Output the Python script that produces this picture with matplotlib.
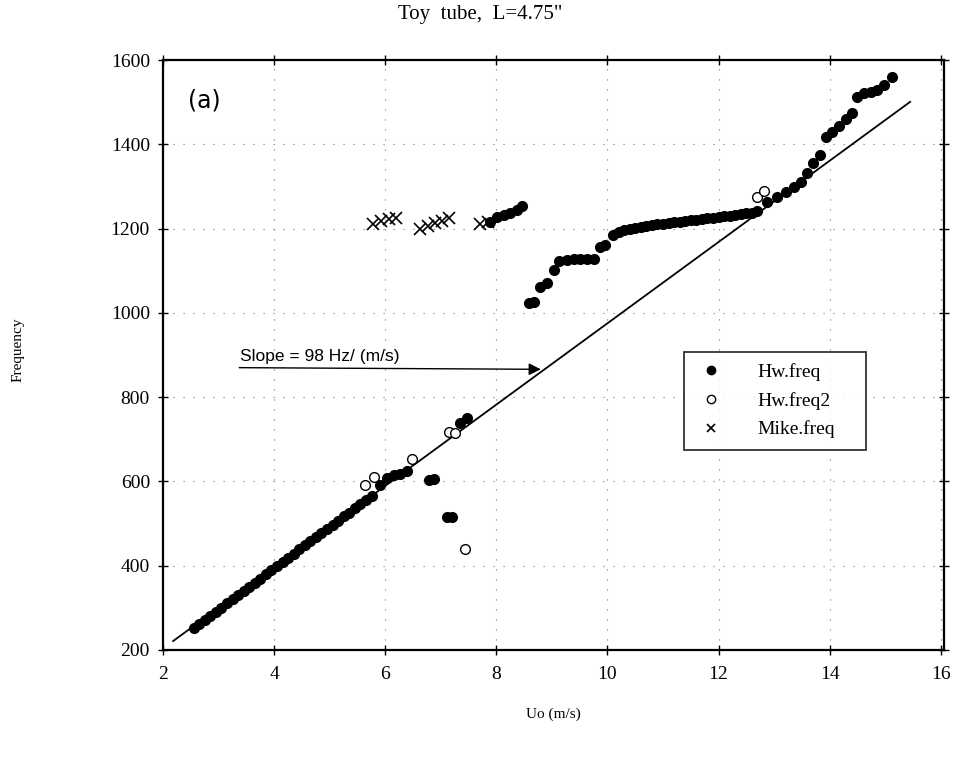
import matplotlib
matplotlib.use("Agg")
import matplotlib.pyplot as plt

# ---------------- data ----------------
hw_x = [2.55, 2.65, 2.75, 2.85, 2.95, 3.05, 3.15, 3.25, 3.35, 3.45, 3.55, 3.65,
        3.75, 3.85, 3.95, 4.05, 4.15, 4.25, 4.35, 4.45, 4.55, 4.65, 4.75, 4.85,
        4.95, 5.05, 5.15, 5.25, 5.35, 5.45, 5.55, 5.65, 5.76,
        5.91, 6.03, 6.15, 6.27, 6.39,
        6.78, 6.87, 7.11, 7.20, 7.35, 7.47,
        7.89, 8.01, 8.13, 8.25, 8.37, 8.46,
        8.58, 8.67, 8.79, 8.91, 9.03, 9.12, 9.27, 9.39, 9.51, 9.63, 9.75,
        9.87, 9.96,
        10.1, 10.2, 10.3, 10.4, 10.5, 10.6, 10.7, 10.8, 10.9, 11.0, 11.1, 11.2,
        11.3, 11.4, 11.5, 11.6, 11.7, 11.8, 11.9, 12.0, 12.1, 12.2, 12.3, 12.4,
        12.5, 12.6, 12.7,
        12.88, 13.06, 13.21, 13.36, 13.48, 13.60, 13.70, 13.82,
        13.93, 14.05, 14.17, 14.29, 14.41,
        14.50, 14.62, 14.74, 14.86, 14.98, 15.13]
hw_y = [251, 262, 272, 281, 291, 300, 311, 320, 330, 340, 350, 359,
        369, 380, 389, 399, 409, 418, 428, 439, 448, 458, 468, 477,
        487, 497, 507, 517, 526, 536, 546, 556, 566,
        592, 607, 615, 618, 625,
        603, 606, 516, 515, 738, 750,
        1216, 1228, 1232, 1236, 1244, 1254,
        1023, 1027, 1062, 1072, 1102, 1122, 1125, 1128, 1129, 1129, 1127,
        1157, 1161,
        1185, 1191, 1196, 1199, 1202, 1204, 1206, 1208, 1210, 1212, 1213, 1215,
        1216, 1218, 1220, 1221, 1223, 1225, 1226, 1228, 1229, 1231, 1232, 1234,
        1236, 1238, 1241,
        1264, 1276, 1288, 1299, 1311, 1332, 1355, 1375,
        1418, 1430, 1443, 1461, 1475,
        1513, 1521, 1525, 1530, 1541, 1559]

hw2_x = [5.64, 5.79, 6.48, 7.14, 7.26, 7.44, 12.70, 12.82]
hw2_y = [592, 611, 652, 718, 714, 439, 1276, 1290]

mike_x = [5.78, 5.92, 6.06, 6.20, 6.63, 6.76, 6.89, 7.02, 7.14, 7.71, 7.84]
mike_y = [1210, 1218, 1222, 1226, 1200, 1207, 1213, 1219, 1226, 1210, 1216]

fit_x = [2.18, 15.45]
fit_y = [221, 1501]

slope_label = "Slope = 98 Hz/ (m/s)"
arrow_from = (3.32, 870)
arrow_to = (8.85, 866)

x_ticks = [2, 4, 6, 8, 10, 12, 14, 16]
y_ticks = [200, 400, 600, 800, 1000, 1200, 1400, 1600]

# ---------------- figure ----------------
serif = ["Liberation Serif", "DejaVu Serif"]
fig = plt.figure(figsize=(9.54, 7.61), dpi=100)
ax = fig.add_axes([0.171, 0.146, 0.818, 0.775])

ax.plot(fit_x, fit_y, color="black", lw=1.3, zorder=2)
ax.plot(hw_x, hw_y, linestyle="none", marker="o", ms=7, color="black",
        label="Hw.freq", zorder=3)
ax.plot(hw2_x, hw2_y, linestyle="none", marker="o", ms=7, mfc="white",
        mec="black", mew=1.0, label="Hw.freq2", zorder=3)
ax.plot(mike_x, mike_y, linestyle="none", marker="x", ms=8, color="black",
        mew=1.2, label="Mike.freq", zorder=3)

ax.annotate("", xy=arrow_to, xytext=arrow_from,
            arrowprops=dict(arrowstyle="-|>", color="black", lw=1.0,
                            mutation_scale=18))
ax.text(arrow_from[0] + 0.07, 878, slope_label, fontsize=12.5,
        family=["Liberation Sans", "DejaVu Sans"], ha="left", va="bottom")
ax.text(2.45, 1505, "(a)", fontsize=17, family=["DejaVu Sans"], ha="left",
        va="center")

ax.set_xlim(2, 16.05)
ax.set_ylim(200, 1600)
ax.set_xticks(x_ticks)
ax.set_yticks(y_ticks)
ax.set_xticklabels([str(t) for t in x_ticks], family=serif, fontsize=14)
ax.set_yticklabels([str(t) for t in y_ticks], family=serif, fontsize=14)
ax.tick_params(direction="inout", length=7, width=1, top=True, right=True,
               pad=6)
ax.tick_params(axis="x", pad=8)
ax.grid(True, color="0.45", linestyle=(0, (1, 8)), lw=0.8)
for s in ax.spines.values():
    s.set_linewidth(1.6)

fig.text(480 / 954, 1 - 15 / 761, 'Toy  tube,  L=4.75"', family=serif,
         fontsize=15, ha="center", va="center")
ax.set_xlabel("Uo (m/s)", family=serif, fontsize=11, labelpad=18)
fig.text(18 / 954, 1 - 350 / 761, "Frequency", family=serif, fontsize=11,
         rotation=90, ha="center", va="center")

leg = ax.legend(loc="upper left", bbox_to_anchor=(0.655, 0.344, 0.258, 0.178),
                mode="expand", frameon=True, fancybox=False,
                edgecolor="black", prop={"family": serif, "size": 14},
                handletextpad=1.6, borderpad=0.6, labelspacing=0.55,
                handlelength=1.6)
leg.get_frame().set_linewidth(1.3)
for h in leg.legend_handles:
    h.set_markersize(6)

fig.savefig("out.png", dpi=100)
